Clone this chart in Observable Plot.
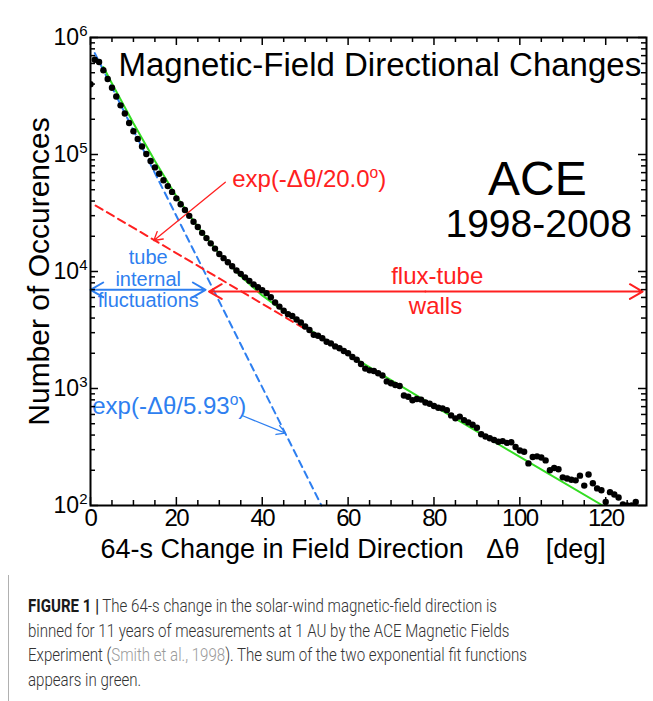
<!DOCTYPE html>
<html><head><meta charset="utf-8">
<script src="https://cdn.jsdelivr.net/npm/d3@7"></script>
<script src="https://cdn.jsdelivr.net/npm/@observablehq/plot@0.6"></script>
<style>
html,body{margin:0;padding:0;background:#fff;}
body{width:653px;height:701px;overflow:hidden;position:relative;font-family:"Liberation Sans",Arial,sans-serif;}
#border{position:absolute;left:8px;top:0;width:1px;height:701px;background:#b0b0b0;}
#chart{position:absolute;left:0;top:0;}
#caption{position:absolute;left:28px;top:594px;font-family:Roboto,"Liberation Sans",sans-serif;font-size:19px;line-height:24.5px;color:#333;font-weight:300;}
.cl{white-space:nowrap;transform-origin:0 0;width:max-content;}
.cl b{font-weight:700;color:#1a1a1a;}
.cl .ref{color:#999;}
</style></head>
<body>
<div id="border"></div>
<div id="chart"></div>
<div id="caption">
<div class="cl"><b>FIGURE 1 |</b> The 64-s change in the solar-wind magnetic-field direction is</div>
<div class="cl">binned for 11 years of measurements at 1 AU by the ACE Magnetic Fields</div>
<div class="cl">Experiment (<span class="ref">Smith et al., 1998</span>). The sum of the two exponential fit functions</div>
<div class="cl">appears in green.</div>
</div>
<script>
// ---- data ----
const theta = [0,1,2,3,4,5,6,7,8,9,10,11,12,13,14,15,16,17,18,19,20,21,22,23,24,25,26,27,28,29,30,31,32,33,34,35,36,37,38,39,40,41,42,43,44,45,46,47,48,49,50,51,52,53,54,55,56,57,58,59,60,61,62,63,64,65,66,67,68,69,70,71,72,73,74,75,76,77,78,79,80,81,82,83,84,85,86,87,88,89,90,91,92,93,94,95,96,97,98,99,100,101,102,103,104,105,106,107,108,109,110,111,112,113,114,115,116,117,118,119,120,121,122,123,124,125,126,127];
const counts = [398000,646000,617000,525000,442000,372000,313000,263000,224000,186000,
158000,136000,117000,101000,88100,77600,68400,60300,53700,47900,
42200,37600,33500,29900,26600,24000,21400,19300,17400,15700,
14100,13000,12000,11100,10200,9550,8910,8320,7760,7330,
6920,6530,6030,5430,5010,4620,4320,4170,3890,3670,
3390,3160,2880,2820,2690,2510,2430,2290,2210,2090,
2000,1860,1760,1620,1480,1430,1410,1350,1290,1150,
1110,1070,1050,871,851,794,813,804,759,741,
708,684,676,653,589,556,575,537,513,490,
462,407,389,376,363,351,355,343,347,316,
295,288,229,260,263,257,243,200,209,204,
174,170,166,164,180,148,184,155,140,135,
107,130,124,117,102,100,100,107];

const redFitTheta = [1.2, 51.3];
const redFitCount = [36600, 3020];
const blueFitTheta = [1, 53.8];
const blueFitCount = [736000, 100];
const greenTheta = [3,5,10,15,20,25,30,35,40,50,60,80,100,119.3];
const greenCount = [560000,405000,185000,88000,44000,24000,14200,9100,6250,3360,1960,710,260,100];

const xTickLabels = [0,20,40,60,80,100,120];
const xMinorTicks = [5,10,15,25,30,35,45,50,55,65,70,75,85,90,95,105,110,115,125];
const yDecades = [100,1000,10000,100000,1000000];
const yExponents = ["2","3","4","5","6"];
const yMinorTicks = [200,300,400,500,600,700,800,900,2000,3000,4000,5000,6000,7000,8000,9000,
  20000,30000,40000,50000,60000,70000,80000,90000,200000,300000,400000,500000,600000,700000,800000,900000];

// annotations (positions in data units: degrees, occurrences)
const titleNote = [{label:"Magnetic-Field Directional Changes", t:6.5, c:473000}];
const aceNote = [{label:"ACE", t:104.1, c:44700}];
const yearsNote = [{label:"1998-2008", t:104.4, c:19600}];
const redExpNote = [{label:"exp(-Δθ/20.0^{o})", t:33.0, c:52500}];
const blueExpNote = [{label:"exp(-Δθ/5.93^{o})", t:0.4, c:608}];
const tubeNote = [{label:"tube\ninternal\nfluctuations", t:13.44, c:4960}];
const wallsNote = [{label:"flux-tube", t:80.76, c:7850},{label:"walls", t:80.36, c:4375}];
const redExpArrow = [{t1:31.4, c1:58000, t2:14.75, c2:18400}];
const blueExpArrow = [{t1:35.3, c1:588, t2:45.4, c2:415}];
const blueSpan = [{t1:13.4, c1:6970, t2:0, c2:6970},{t1:13.4, c1:6970, t2:26.8, c2:6970}];
const redSpan = [{t1:78, c1:6740, t2:27.6, c2:6740},{t1:78, c1:6740, t2:128.6, c2:6740}];
const xLabelStart = [
  {label:"64-s Change in Field Direction", t:2.33},
  {label:"Δθ", t:92.2}
];
const xLabelEnd = [{label:"[deg]", t:120.0}];
const yLabel = ["Number of Occurences"];

const RED = "#ff2020", BLUE = "#2e7ff0", GREEN = "#33dd22";

const pts = theta.map((t,i)=>({t, c:counts[i]}));
const redFit = redFitTheta.map((t,i)=>({t, c:redFitCount[i]}));
const blueFit = blueFitTheta.map((t,i)=>({t, c:blueFitCount[i]}));
const greenFit = greenTheta.map((t,i)=>({t, c:greenCount[i]}));
const decades = yDecades.map((v,i)=>({v, e:yExponents[i]}));

const FH = 468, FW = 556;

const chart = Plot.plot({
  width:653, height:575,
  marginLeft:90, marginRight:7, marginTop:37, marginBottom:70,
  style:{fontFamily:'"Liberation Sans", Arial, Helvetica, sans-serif', background:"white", overflow:"visible", color:"black"},
  x:{domain:[0,129.5], axis:null},
  y:{type:"log", domain:[100,1000000], axis:null},
  marks:[
    Plot.line(blueFit, {x:"t", y:"c", stroke:BLUE, strokeWidth:2, strokeDasharray:"7,5"}),
    Plot.line(redFit, {x:"t", y:"c", stroke:RED, strokeWidth:2, strokeDasharray:"8,5"}),
    Plot.line(greenFit, {x:"t", y:"c", stroke:GREEN, strokeWidth:2, clip:true}),
    Plot.arrow(redExpArrow, {x1:"t1", y1:"c1", x2:"t2", y2:"c2", stroke:RED, strokeWidth:1.3, headLength:11}),
    Plot.arrow(blueExpArrow, {x1:"t1", y1:"c1", x2:"t2", y2:"c2", stroke:BLUE, strokeWidth:1.3, headLength:11}),
    Plot.arrow(blueSpan, {x1:"t1", y1:"c1", x2:"t2", y2:"c2", stroke:BLUE, strokeWidth:2, headLength:11}),
    Plot.arrow(redSpan, {x1:"t1", y1:"c1", x2:"t2", y2:"c2", stroke:RED, strokeWidth:2, headLength:11}),
    Plot.dot(pts, {x:"t", y:"c", r:3.2, fill:"black", stroke:null, clip:true}),
    Plot.text(titleNote, {x:"t", y:"c", text:"label", textAnchor:"start", lineAnchor:"bottom", fontSize:33, fill:"black"}),
    Plot.text(aceNote, {x:"t", y:"c", text:"label", textAnchor:"middle", lineAnchor:"bottom", fontSize:48, fill:"black"}),
    Plot.text(yearsNote, {x:"t", y:"c", text:"label", textAnchor:"middle", lineAnchor:"bottom", fontSize:39, fill:"black"}),
    Plot.text(redExpNote, {x:"t", y:"c", text:"label", textAnchor:"start", lineAnchor:"bottom", fontSize:24, fill:RED}),
    Plot.text(blueExpNote, {x:"t", y:"c", text:"label", textAnchor:"start", lineAnchor:"bottom", fontSize:24, fill:BLUE}),
    Plot.text(tubeNote, {x:"t", y:"c", text:"label", textAnchor:"middle", lineAnchor:"bottom", lineHeight:1.08, fontSize:20, fill:BLUE}),
    Plot.text(wallsNote, {x:"t", y:"c", text:"label", textAnchor:"middle", lineAnchor:"bottom", fontSize:24, fill:RED}),
    Plot.frame({stroke:"black", strokeWidth:2}),
    Plot.ruleX(xTickLabels, {x:d=>d, insetTop:FH-8, stroke:"black", strokeWidth:1.5}),
    Plot.ruleX(xTickLabels, {x:d=>d, insetBottom:FH-8, stroke:"black", strokeWidth:1.5}),
    Plot.ruleX(xMinorTicks, {x:d=>d, insetTop:FH-5, stroke:"black", strokeWidth:1.5}),
    Plot.ruleX(xMinorTicks, {x:d=>d, insetBottom:FH-5, stroke:"black", strokeWidth:1.5}),
    Plot.ruleY(yDecades, {y:d=>d, insetRight:FW-8, stroke:"black", strokeWidth:1.5}),
    Plot.ruleY(yDecades, {y:d=>d, insetLeft:FW-8, stroke:"black", strokeWidth:1.5}),
    Plot.ruleY(yMinorTicks, {y:d=>d, insetRight:FW-5, stroke:"black", strokeWidth:1.5}),
    Plot.ruleY(yMinorTicks, {y:d=>d, insetLeft:FW-5, stroke:"black", strokeWidth:1.5}),
    Plot.text(decades, {y:"v", frameAnchor:"left", dx:-3, textAnchor:"end", text:d=>"10^{"+d.e+"}", fontSize:23, fill:"black"}),
    Plot.text(xTickLabels, {x:d=>d, frameAnchor:"bottom", textAnchor:"middle", lineAnchor:"top", dy:3, text:d=>String(d), fontSize:24, fill:"black"}),
    Plot.text(yLabel, {frameAnchor:"left", textAnchor:"middle", lineAnchor:"middle", rotate:-90, dx:-51, text:d=>d, fontSize:30, fill:"black"}),
    Plot.text(xLabelStart, {x:"t", frameAnchor:"bottom", text:"label", textAnchor:"start", lineAnchor:"bottom", dy:52.6, fontSize:27, fill:"black"}),
    Plot.text(xLabelEnd, {x:"t", frameAnchor:"bottom", text:"label", textAnchor:"end", lineAnchor:"bottom", dy:52.6, fontSize:27, fill:"black"})
  ]
});
document.getElementById("chart").appendChild(chart);

// superscripts: "^{...}" markup -> raised tspans
chart.querySelectorAll("text").forEach(t => {
  if (t.children.length) return;
  const s = t.textContent;
  if (!s.includes("^{")) return;
  const fs = parseFloat(getComputedStyle(t).fontSize);
  const parts = s.split(/\^\{([^}]*)\}/);
  const raise = 0.38*fs;
  t.textContent = "";
  let prevSup = false;
  parts.forEach((p,i) => {
    if (p === "") { return; }
    const ts = document.createElementNS("http://www.w3.org/2000/svg","tspan");
    ts.textContent = p;
    if (i % 2 === 1) {
      ts.setAttribute("font-size", (0.65*fs).toFixed(1));
      ts.setAttribute("dy", (-raise).toFixed(1));
      prevSup = true;
    } else if (prevSup) {
      ts.setAttribute("dy", raise.toFixed(1));
      prevSup = false;
    }
    t.appendChild(ts);
  });
});
// tighter spacing for x tick numbers
chart.querySelectorAll("text").forEach(t => {
  if (/^\d+$/.test(t.textContent) && parseFloat(getComputedStyle(t).fontSize) === 24) t.style.letterSpacing = "-1.5px";
});

// caption: condensed to the reference line length
const lines = document.querySelectorAll(".cl");
const w0 = lines[0].getBoundingClientRect().width;
const k = 469 / w0;
lines.forEach(l => l.style.transform = `scaleX(${k})`);
</script>
</body></html>
